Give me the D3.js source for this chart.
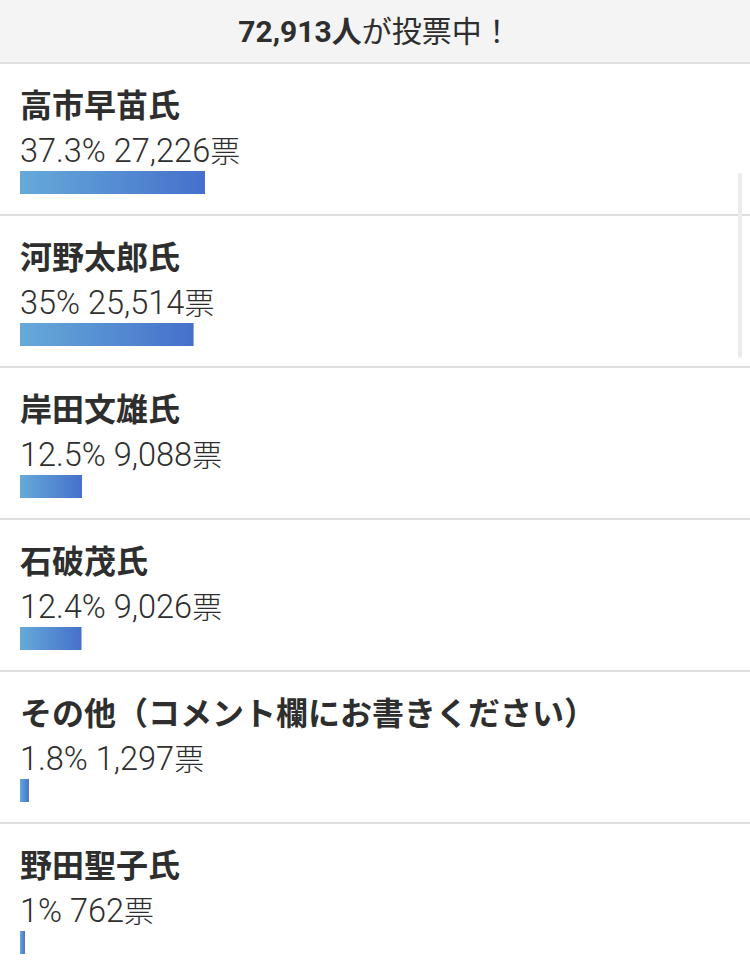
<!DOCTYPE html>
<html>
<head>
<meta charset="utf-8">
<script src="https://cdn.jsdelivr.net/npm/d3@7"></script>
<style>
  body { margin: 0; background: #fff; }
  svg { display: block; }
</style>
</head>
<body>
<svg id="chart"></svg>
<script>
// poll results
const names = ["高市早苗氏", "河野太郎氏", "岸田文雄氏", "石破茂氏", "その他（コメント欄にお書きください）", "野田聖子氏"];
const percents = [37.3, 35, 12.5, 12.4, 1.8, 1];
const votes = [27226, 25514, 9088, 9026, 1297, 762];
const totalVoters = 72913;

const width = 750;
const height = 974;
const headerH = 63;
const rowH = 152;
const cjk = "'Noto Sans CJK JP', 'Noto Sans', sans-serif";
const latin = "Roboto, 'Noto Sans CJK JP', sans-serif";

const svg = d3.select("#chart")
    .attr("width", width)
    .attr("height", height)
    .style("font-family", cjk);

// bar gradient, light to dark blue
const grad = svg.append("defs").append("linearGradient")
    .attr("id", "barGrad")
    .attr("x1", "0%").attr("x2", "100%");
grad.append("stop").attr("offset", "0%").attr("stop-color", "#66aad9");
grad.append("stop").attr("offset", "100%").attr("stop-color", "#4570cb");

// header
svg.append("rect")
    .attr("width", width)
    .attr("height", headerH)
    .attr("fill", "#f4f4f4");

const head = svg.append("text")
    .attr("x", width / 2)
    .attr("y", 42)
    .attr("text-anchor", "middle")
    .attr("fill", "#2e2e2e")
    .attr("font-size", 30);
head.append("tspan")
    .attr("font-family", latin)
    .attr("font-weight", "bold")
    .text(d3.format(",")(totalVoters));
head.append("tspan")
    .attr("font-weight", "bold")
    .text("人");
head.append("tspan").text("が投票中！");

const x = d3.scaleLinear().domain([0, 100]).range([0, 496]);
const y = d3.scaleBand().domain(d3.range(names.length)).range([headerH, headerH + rowH * names.length]);

const rows = svg.append("g")
    .selectAll("g")
    .data(names.map((n, i) => ({ name: n, pct: percents[i], votes: votes[i] })))
    .join("g")
    .attr("transform", (d, i) => `translate(0,${y(i)})`);

// divider on top of each row
rows.append("rect")
    .attr("x", 0)
    .attr("y", -1)
    .attr("width", width)
    .attr("height", 2)
    .attr("fill", "#dedede");

rows.append("text")
    .attr("x", 20)
    .attr("y", 54)
    .attr("fill", "#2e2e2e")
    .attr("font-size", 32)
    .attr("font-weight", "bold")
    .text(d => d.name);

const stat = rows.append("text")
    .attr("x", 20)
    .attr("y", 99)
    .attr("fill", "#2e2e2e")
    .attr("font-size", 32.5)
    .attr("font-weight", 300);
stat.append("tspan")
    .attr("font-family", latin)
    .text(d => `${d.pct}% ${d3.format(",")(d.votes)}`);
stat.append("tspan").attr("font-size", 30).text("票");

rows.append("rect")
    .attr("x", 20)
    .attr("y", 108)
    .attr("width", d => x(d.pct))
    .attr("height", 23)
    .attr("fill", "url(#barGrad)");

// scrollbar thumb
svg.append("rect")
    .attr("x", 738)
    .attr("y", 173)
    .attr("width", 4)
    .attr("height", 185)
    .attr("rx", 2)
    .attr("fill", "#ececec");
</script>
</body>
</html>
